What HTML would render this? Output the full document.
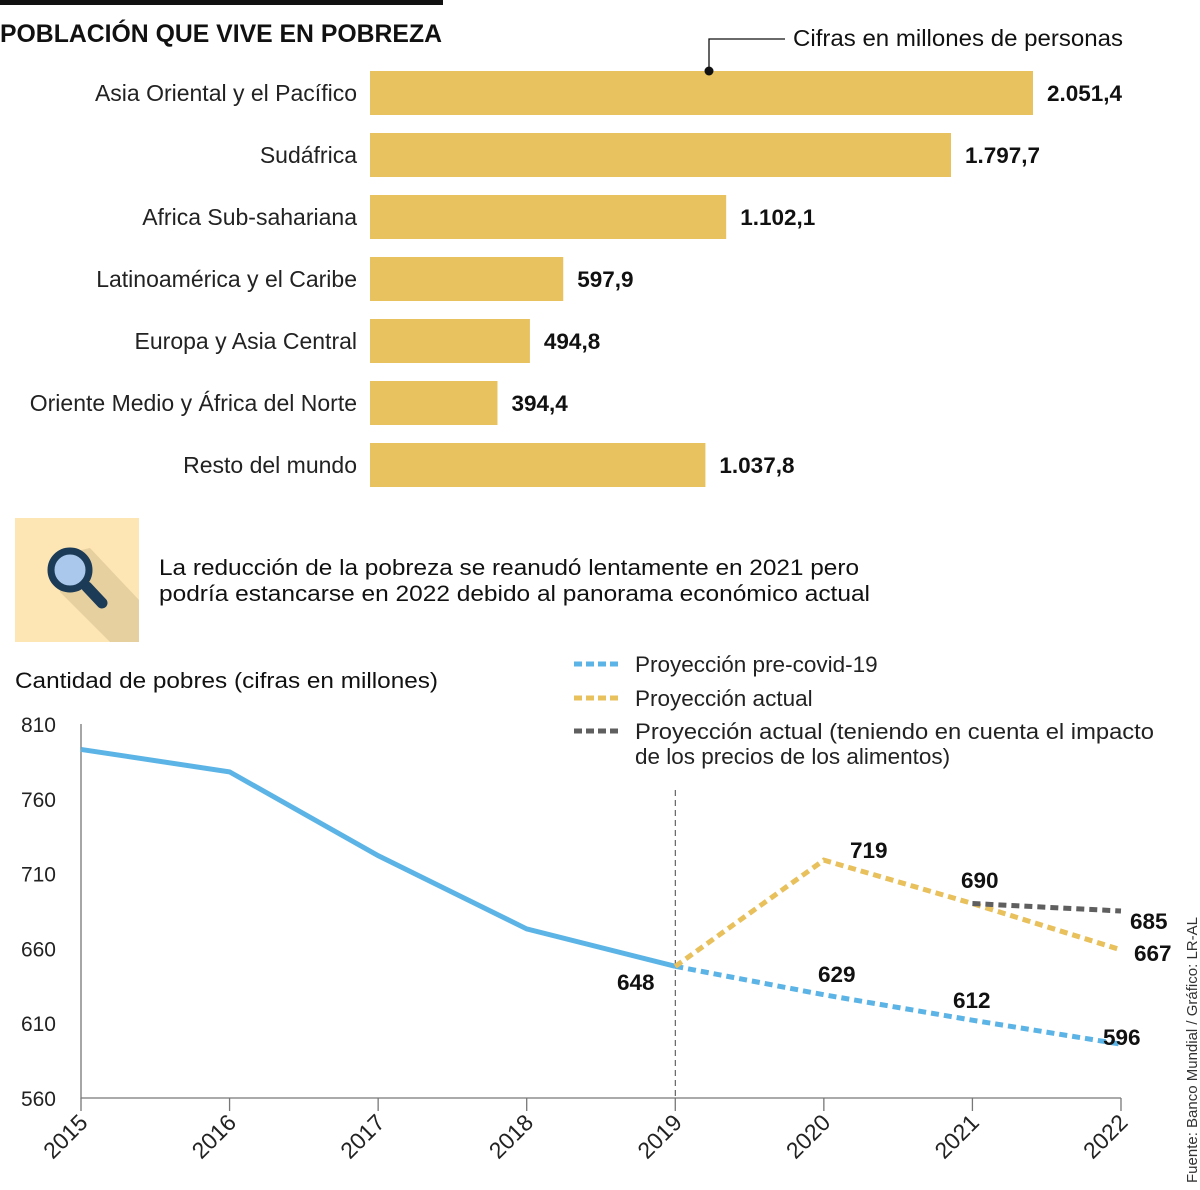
<!DOCTYPE html>
<html><head><meta charset="utf-8"><style>
body{margin:0;background:#fff;width:1200px;height:1185px;overflow:hidden;font-family:"Liberation Sans",sans-serif}
svg text{font-family:"Liberation Sans",sans-serif}
</style></head><body>
<svg id="c" width="1200" height="1185">
<rect x="0" y="0" width="443" height="5" fill="#111"/>
<text x="0" y="42" font-size="25" font-weight="bold" fill="#111" textLength="442" lengthAdjust="spacingAndGlyphs">POBLACIÓN QUE VIVE EN POBREZA</text>
<text x="793" y="46" font-size="23" fill="#111" textLength="330" lengthAdjust="spacingAndGlyphs">Cifras en millones de personas</text>
<g id="bars"></g>
<polyline points="709,71 709,39 785,39" fill="none" stroke="#111" stroke-width="1.3"/>
<circle cx="709" cy="71" r="4.5" fill="#111"/>
<rect x="15" y="518" width="124" height="124" fill="#fde5b4"/>
<polygon points="55,556 90,548 139,600 139,642 110,642 60,592" fill="#e7d0a0"/>
<line x1="87" y1="587" x2="102" y2="603" stroke="#1c3b57" stroke-width="11" stroke-linecap="round"/>
<circle cx="70" cy="570" r="19" fill="#a9c8ec" stroke="#1c3b57" stroke-width="7"/>
<text x="159" y="575" font-size="22.5" fill="#111" textLength="700" lengthAdjust="spacingAndGlyphs">La reducción de la pobreza se reanudó lentamente en 2021 pero</text>
<text x="159" y="601" font-size="22.5" fill="#111" textLength="711" lengthAdjust="spacingAndGlyphs">podría estancarse en 2022 debido al panorama económico actual</text>
<text x="15" y="688" font-size="22.5" fill="#111" textLength="423" lengthAdjust="spacingAndGlyphs">Cantidad de pobres (cifras en millones)</text>
<line x1="574" y1="664" x2="622" y2="664" stroke="#5bb4e5" stroke-width="5" stroke-dasharray="8,4"/>
<text x="635" y="672" font-size="22.5" fill="#222">Proyección pre-covid-19</text>
<line x1="574" y1="698" x2="622" y2="698" stroke="#e8c05c" stroke-width="5" stroke-dasharray="8,4"/>
<text x="635" y="706" font-size="22.5" fill="#222">Proyección actual</text>
<line x1="574" y1="731" x2="622" y2="731" stroke="#5f5f5f" stroke-width="5" stroke-dasharray="8,4"/>
<text x="635" y="739" font-size="22.5" fill="#222" textLength="519" lengthAdjust="spacingAndGlyphs">Proyección actual (teniendo en cuenta el impacto</text>
<text x="635" y="764" font-size="22.5" fill="#222">de los precios de los alimentos)</text>
<g id="line"></g>
<text transform="translate(1197,1183) rotate(-90)" font-size="15" fill="#333">Fuente: Banco Mundial / Gráfico: LR-AL</text>
</svg>
<script>
const regions=["Asia Oriental y el Pacífico","Sudáfrica","Africa Sub-sahariana","Latinoamérica y el Caribe","Europa y Asia Central","Oriente Medio y África del Norte","Resto del mundo"];
const regionValues=[2051.4,1797.7,1102.1,597.9,494.8,394.4,1037.8];
const regionLabels=["2.051,4","1.797,7","1.102,1","597,9","494,8","394,4","1.037,8"];
const years=[2015,2016,2017,2018,2019,2020,2021,2022];
const historic=[793,778,722,673,648];
const precovid=[648,629,612,596];
const actual=[648,719,690,659];
const food=[690,685];
const yTicks=[560,610,660,710,760,810];
const NS="http://www.w3.org/2000/svg";
function mk(p,t,a,txt){const e=document.createElementNS(NS,t);for(const k in a)e.setAttribute(k,a[k]);if(txt!==undefined)e.textContent=txt;p.appendChild(e);return e;}
const bx=v=>370+v*663/2051.4;
const bg=document.getElementById('bars');
regions.forEach((r,i)=>{const y=71+i*62;
 const b=mk(bg,'rect',{x:370,y:y,width:bx(regionValues[i])-370,height:44,fill:'#e8c25e'});
 
 
 const l=mk(bg,'text',{x:357,y:y+30,'font-size':23,fill:'#222','text-anchor':'end'},r);
 
 
 const v=mk(bg,'text',{x:bx(regionValues[i])+14,y:y+30,'font-size':22.5,'font-weight':'bold',fill:'#111'},regionLabels[i]);
 
 
});
const lg=document.getElementById('line');
const X=yr=>81+(yr-2015)*148.57;
const Y=v=>1098-(v-560)*374/250;
const ax=mk(lg,'path',{d:'M81,724V1098H1121',fill:'none',stroke:'#777','stroke-width':1.3});


yTicks.forEach(t=>{const e=mk(lg,'text',{x:56,y:Y(t)+8,'font-size':21,fill:'#222','text-anchor':'end'},t);
 
 });
years.forEach(yr=>{const tk=mk(lg,'line',{x1:X(yr),y1:1098,x2:X(yr),y2:1111,stroke:'#777','stroke-width':1.3});
 
 
 const e=mk(lg,'text',{transform:`translate(${X(yr)+8},1124) rotate(-45)`,'font-size':23,fill:'#222','text-anchor':'end'},yr);
 
 });
const vl=mk(lg,'line',{x1:X(2019),y1:790,x2:X(2019),y2:1098,stroke:'#444','stroke-width':1,'stroke-dasharray':'6,4'});


function series(vals,start,col,dash,name){const pts=vals.map((v,i)=>X(years[start+i])+','+Y(v)).join(' ');
 const a={points:pts,fill:'none',stroke:col,'stroke-width':5};if(dash)a['stroke-dasharray']='8,5';
 const e=mk(lg,'polyline',a);}
series(historic,0,'#5bb4e5',false,'historic-line');
series(precovid,4,'#5bb4e5',true,'precovid-line');
series(actual,4,'#e8c05c',true,'actual-line');
series(food,6,'#5f5f5f',true,'food-line');
const labs=[[648,617,990],[629,818,982],[612,953,1008],[596,1103,1045],[719,850,858],[690,961,888],[685,1130,929],[667,1134,961]];
labs.forEach(l=>{const e=mk(lg,'text',{x:l[1],y:l[2],'font-size':22.5,'font-weight':'bold',fill:'#111'},l[0]);
 
 });
</script>
</body></html>
